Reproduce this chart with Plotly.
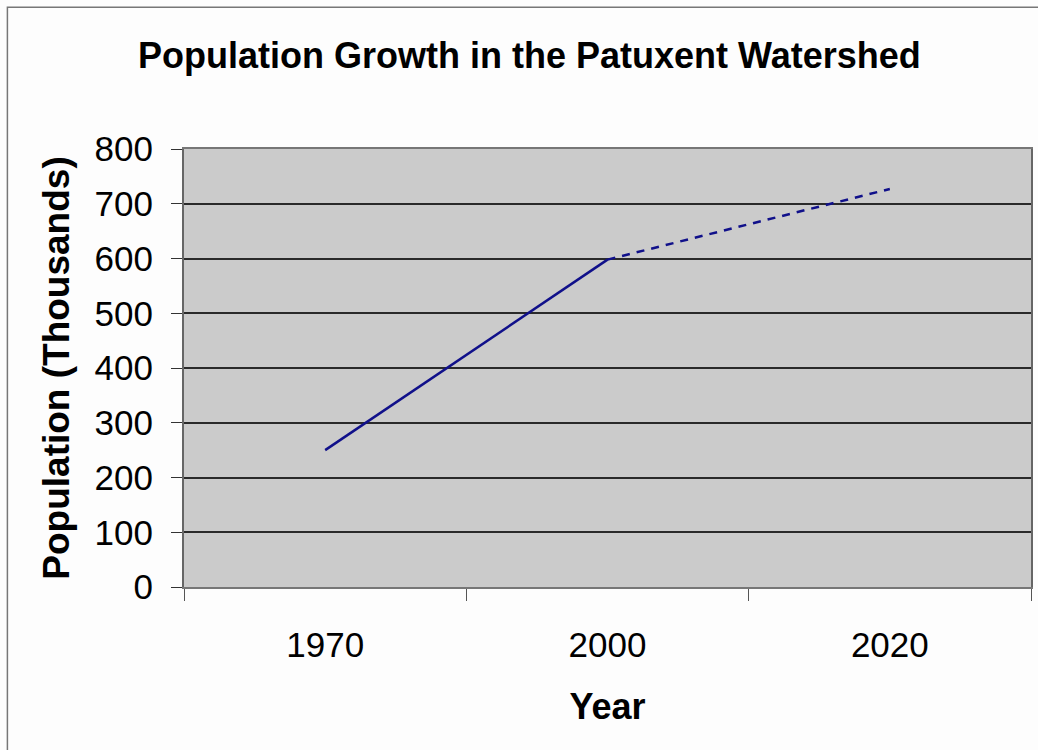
import plotly.graph_objects as go

years = ["1970", "2000", "2020"]
observed = [250, 598, None]
projected = [None, 598, 727]
y_ticks = [0, 100, 200, 300, 400, 500, 600, 700, 800]

FONT = "Liberation Sans, Arial, sans-serif"
LINE = "#10108a"

fig = go.Figure()
fig.add_trace(go.Scatter(x=years, y=observed, mode="lines",
                         line=dict(color=LINE, width=2.5), showlegend=False))
fig.add_trace(go.Scatter(x=years, y=projected, mode="lines",
                         line=dict(color=LINE, width=2.5, dash="8px,7px"), showlegend=False))

fig.update_layout(
    width=1038, height=750,
    margin=dict(l=184, r=5, t=149, b=163),
    paper_bgcolor="#fdfdfd",
    plot_bgcolor="#cbcbcb",
    font=dict(family=FONT, color="black"),
    title=dict(text="<b>Population Growth in the Patuxent Watershed</b>",
               x=0.51, xanchor="center", y=0.926, yanchor="middle",
               font=dict(size=36, family=FONT, color="black")),
    xaxis=dict(type="category", range=[-0.5, 2.5], tickson="boundaries",
               ticks="outside", ticklen=12, tickcolor="#555", tickwidth=1,
               showline=True, linecolor="#777", linewidth=2, mirror=True,
               showgrid=False, tickfont=dict(size=35),
               ticklabelstandoff=26,
               title=dict(text="<b>Year</b>", font=dict(size=36), standoff=31)),
    yaxis=dict(range=[0, 800], tickvals=y_ticks, ticks="outside", ticklen=11,
               tickcolor="#333", tickwidth=1,
               showline=True, linecolor="#666", linewidth=2, mirror=True,
               showgrid=True, gridcolor="#2a2a2a", gridwidth=1.5, zeroline=False,
               tickfont=dict(size=35), ticklabelstandoff=11,
               title=dict(text="<b>Population (Thousands)</b>", font=dict(size=37), standoff=14)),
)

# outer chart-area border (top and left visible, right/bottom run off the page)
fig.add_shape(type="rect", xref="paper", yref="paper",
              x0=-0.2085, x1=1.02, y0=-0.4, y1=1.3235,
              line=dict(color="#777", width=1.5), fillcolor="rgba(0,0,0,0)", layer="below")

fig.write_html("out.html", config={"displayModeBar": False},
               post_script="document.body.style.margin='0';")
